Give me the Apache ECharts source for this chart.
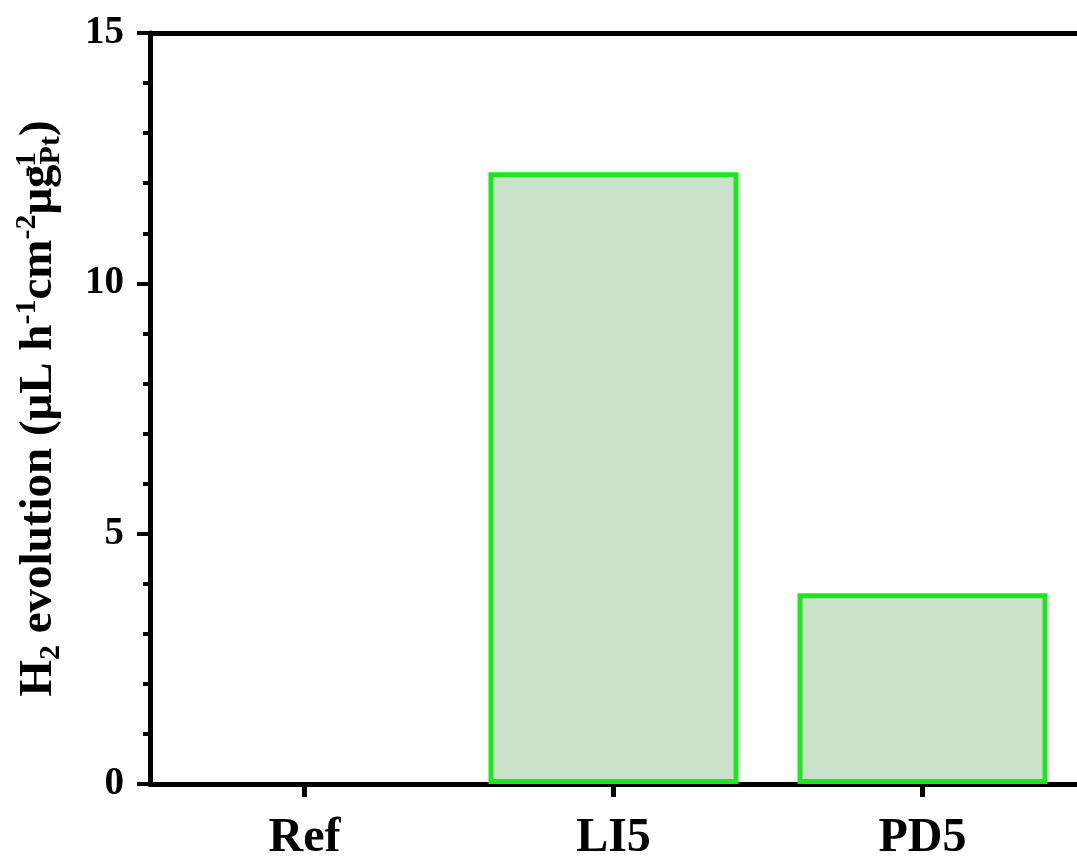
<!DOCTYPE html>
<html>
<head>
<meta charset="utf-8">
<title>H2 evolution</title>
<script src="https://cdn.jsdelivr.net/npm/echarts@6/dist/echarts.min.js"></script>
<style>
  html, body { margin: 0; padding: 0; background: #fff; }
  #chart { width: 1077px; height: 863px; }
</style>
</head>
<body>
<div id="chart"></div>
<script>
// Samples and their hydrogen evolution rates (μL h^-1 cm^-2 μg_Pt^-1)
const categories = ['Ref', 'LI5', 'PD5'];
const h2Rates = [0, 12.22, 3.81];
const yTicks = { min: 0, max: 15, interval: 5 };

const serif = '"Liberation Serif", "Times New Roman", serif';
const black = '#000';

const chart = echarts.init(document.getElementById('chart'));

// A zero-height bar would leave its outline over the axis, so give it none
const barData = h2Rates.map(v => v === 0 ? { value: v, itemStyle: { borderWidth: 0 } } : v);

chart.setOption({
  backgroundColor: '#fff',
  animation: false,
  grid: { left: 150, top: 33, bottom: 77, width: 934, containLabel: false },
  xAxis: [
    {
      type: 'category',
      data: categories,
      position: 'bottom',
      axisLine: { show: true, lineStyle: { color: black, width: 5 } },
      axisTick: { show: true, alignWithLabel: true, length: 13, lineStyle: { color: black, width: 5 } },
      axisLabel: { color: black, fontFamily: serif, fontWeight: 'bold', fontSize: 48, margin: 31 },
      splitLine: { show: false }
    },
    {
      type: 'category',
      data: categories,
      position: 'top',
      axisLine: { show: true, lineStyle: { color: black, width: 5 } },
      axisTick: { show: false },
      axisLabel: { show: false },
      splitLine: { show: false }
    }
  ],
  yAxis: {
    type: 'value',
    min: yTicks.min,
    max: yTicks.max,
    interval: yTicks.interval,
    axisLine: { show: true, lineStyle: { color: black, width: 5 } },
    axisTick: { show: true, inside: false, length: 13, lineStyle: { color: black, width: 4 } },
    minorTick: { show: true, splitNumber: 5, length: 7, lineStyle: { color: black, width: 4 } },
    axisLabel: { color: black, fontFamily: serif, fontWeight: 'bold', fontSize: 39, margin: 26 },
    splitLine: { show: false },
    name: '{b|H}{sub|2}{b| evolution (μL h}{sup|-1}{b|cm}{sup|-2}{b|μg}{supz|-1}{sub|Pt}{b|)}',
    nameLocation: 'middle',
    nameRotate: 90,
    nameGap: 84,
    nameTextStyle: {
      rich: {
        b: { fontFamily: serif, fontWeight: 'bold', fontSize: 47, color: black, lineHeight: 54, verticalAlign: 'middle' },
        sup: { fontFamily: serif, fontWeight: 'bold', fontSize: 30, color: black, lineHeight: 54, verticalAlign: 'top' },
        supz: { fontFamily: serif, fontWeight: 'bold', fontSize: 30, color: black, lineHeight: 54, verticalAlign: 'top', width: 0 },
        sub: { fontFamily: serif, fontWeight: 'bold', fontSize: 30, color: black, lineHeight: 54, verticalAlign: 'bottom' }
      }
    }
  },
  series: [
    {
      type: 'bar',
      data: barData,
      barWidth: 250,
      itemStyle: { color: '#cae2ca', borderColor: '#1ee61e', borderWidth: 5 }
    }
  ]
});
</script>
</body>
</html>
